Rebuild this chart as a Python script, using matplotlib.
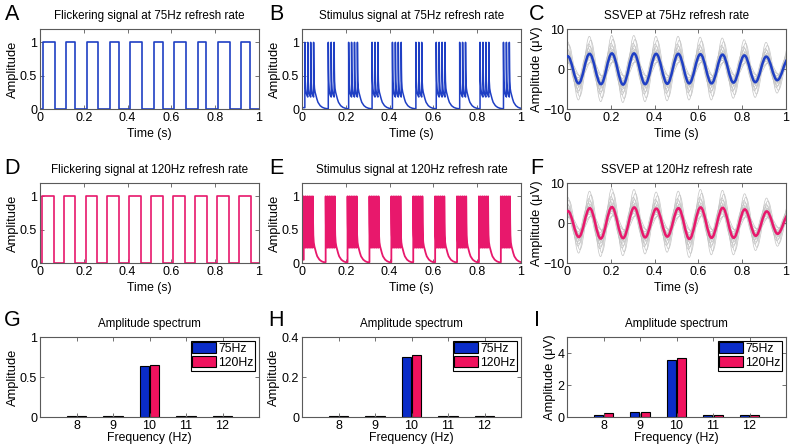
import numpy as np
import matplotlib
matplotlib.use("Agg")
from matplotlib import pyplot as plt
from matplotlib.path import Path
from matplotlib.patches import PathPatch

BLUE = "#1f3fc4"
PINK = "#e8186c"
BAR_BLUE = "#0a2cc8"
BAR_PINK = "#f0125e"
GREY = "#c4c4c4"

rise_75 = [0.013, 0.120, 0.213, 0.320, 0.413, 0.520, 0.613, 0.720, 0.813, 0.920]
fall_75 = [0.067, 0.160, 0.267, 0.360, 0.467, 0.560, 0.667, 0.760, 0.867, 0.960]
rise_120 = [0.008, 0.108, 0.208, 0.308, 0.408, 0.508, 0.608, 0.708, 0.808, 0.908]
fall_120 = [0.062, 0.162, 0.262, 0.362, 0.462, 0.562, 0.662, 0.762, 0.862, 0.962]

# luminance decay after one frame flash (time after flash, level)
flash_dt = [0.0, 0.001, 0.002, 0.004, 0.007, 0.010, 0.013]
flash_y = [1.0, 0.60, 0.42, 0.30, 0.23, 0.20, 0.18]
# decay after the last flash of a burst
tail_dt = [0.0, 0.001, 0.002, 0.004, 0.007, 0.010, 0.015, 0.020, 0.030, 0.040, 0.050, 0.060]
tail_y = [1.0, 0.60, 0.42, 0.31, 0.25, 0.21, 0.15, 0.10, 0.05, 0.025, 0.012, 0.005]

# SSVEP grand average extrema (time s, uV), panels C and F
ssvep75_t = [-0.047, 0.003, 0.053, 0.103, 0.155, 0.205, 0.256, 0.306, 0.357, 0.407, 0.458,
             0.508, 0.558, 0.609, 0.660, 0.710, 0.760, 0.810, 0.860, 0.910, 0.960, 1.012]
ssvep75_v = [-3.0, 3.2, -3.6, 3.8, -3.8, 3.9, -3.9, 3.9, -3.8, 3.8, -3.7,
             3.8, -3.6, 3.7, -3.6, 3.6, -3.4, 3.4, -3.3, 3.1, -2.8, 2.6]
ssvep120_t = [-0.047, 0.004, 0.054, 0.104, 0.154, 0.205, 0.256, 0.307, 0.357, 0.408, 0.458,
              0.509, 0.559, 0.610, 0.660, 0.711, 0.761, 0.812, 0.862, 0.912, 0.962, 1.013]
ssvep120_v = [-3.0, 3.0, -3.5, 3.7, -3.9, 4.0, -3.8, 3.9, -3.6, 3.6, -3.4,
              3.7, -4.0, 3.9, -3.7, 3.8, -3.7, 3.4, -3.2, 2.9, -2.7, 2.2]

# single trials (grey): gain and latency shift relative to the average
trial_gain = [0.45, 0.6, 0.75, 0.85, 0.95, 1.05, 1.15, 1.25, 1.35, 1.5, 1.65, 1.9, 2.15, 0.55, 1.1]
trial_shift = [0.004, -0.003, 0.002, -0.005, 0.006, 0.0, -0.002, 0.003, -0.006, 0.001,
               -0.004, 0.005, -0.001, 0.012, -0.010]

# amplitude spectra
freqs = [8, 9, 10, 11, 12]
stim_amp_75 = [0.009, 0.009, 0.642, 0.009, 0.009]
stim_amp_120 = [0.009, 0.009, 0.650, 0.009, 0.009]
lum_amp_75 = [0.003, 0.003, 0.302, 0.003, 0.003]
lum_amp_120 = [0.003, 0.003, 0.308, 0.003, 0.003]
ssvep_amp_75 = [0.14, 0.33, 3.59, 0.10, 0.10]
ssvep_amp_120 = [0.25, 0.33, 3.71, 0.12, 0.10]

time_ticks = [0, 0.2, 0.4, 0.6, 0.8, 1]
time_labels = ["0", "0.2", "0.4", "0.6", "0.8", "1"]

plt.rcParams["font.family"] = ["Liberation Sans Narrow", "Liberation Sans", "DejaVu Sans"]
plt.rcParams["axes.unicode_minus"] = True

fig = plt.figure(figsize=(7.94, 4.47), dpi=100)
lefts = [40 / 794, 302 / 794, 567 / 794]
bottoms = [1 - 109 / 447, 1 - 263 / 447, 1 - 417 / 447]
w, h = 219 / 794, 80 / 447
TICK_FS = 9
XLAB_FS = 8.8
YLAB_FS = 9.3
TITLE_FS = 8.4


def style(ax):
    for s in ax.spines.values():
        s.set_color("#5a5a5a")
        s.set_linewidth(0.8)
    ax.tick_params(direction="in", length=3, width=0.6, top=True, right=True,
                   labelsize=TICK_FS, pad=2, color="#5a5a5a")


def square(ax, rises, falls, color):
    t, y = [0.0], [0.0]
    for r, f in zip(rises, falls):
        t += [r, r, f, f]
        y += [0, 1, 1, 0]
    t.append(1.0)
    y.append(0.0)
    ax.plot(t, y, color=color, lw=1.2)


def stimulus(ax, rises, falls, rate, start, color, lw):
    frame = 1.0 / rate
    t, y = [0.0], [start]
    for k, (r, f) in enumerate(zip(rises, falls)):
        nxt = rises[k + 1] if k + 1 < len(rises) else 1.0
        onsets = np.arange(r, f - frame / 2, frame)
        for j, t0 in enumerate(onsets):
            t.append(t0)
            y.append(y[-1])
            if j < len(onsets) - 1:
                dts, ys, end = flash_dt, flash_y, frame
            else:
                dts, ys, end = tail_dt, tail_y, nxt - t0
            for d, v in zip(dts, ys):
                if d < end:
                    t.append(t0 + d)
                    y.append(v)
    t.append(1.0)
    y.append(y[-1])
    ax.plot(t, y, color=color, lw=lw)


def wave(ax, ts, vs, color, lw, gain=1.0, shift=0.0, z=2):
    verts = [(ts[0] + shift, vs[0] * gain)]
    codes = [Path.MOVETO]
    for (t0, v0), (t1, v1) in zip(zip(ts[:-1], vs[:-1]), zip(ts[1:], vs[1:])):
        d = (t1 - t0) * 0.363
        verts += [(t0 + d + shift, v0 * gain), (t1 - d + shift, v1 * gain), (t1 + shift, v1 * gain)]
        codes += [Path.CURVE4] * 3
    ax.add_patch(PathPatch(Path(verts, codes), fill=False, edgecolor=color, lw=lw, zorder=z))


def ssvep(ax, ts, vs, color):
    for g, s in zip(trial_gain, trial_shift):
        wave(ax, ts, vs, GREY, 0.5, g, s, z=1)
    wave(ax, ts, vs, color, 1.8, z=3)


def time_axis(ax):
    ax.set_xlim(0, 1)
    ax.set_xticks(time_ticks)
    ax.set_xticklabels(time_labels)
    ax.set_xlabel("Time (s)", fontsize=XLAB_FS, labelpad=3)


def spectrum(ax, a75, a120, ylim, yticks, ylabels, ylabel):
    x = np.array(freqs)
    ax.bar(x - 0.14, a75, width=0.25, color=BAR_BLUE, edgecolor="black", lw=0.8, label="75Hz")
    ax.bar(x + 0.14, a120, width=0.25, color=BAR_PINK, edgecolor="black", lw=0.8, label="120Hz")
    ax.set_xlim(7, 13)
    ax.set_xticks(freqs)
    ax.set_ylim(*ylim)
    ax.set_yticks(yticks)
    ax.set_yticklabels(ylabels)
    ax.set_xlabel("Frequency (Hz)", fontsize=XLAB_FS, labelpad=0)
    ax.set_ylabel(ylabel, fontsize=YLAB_FS, labelpad=1)
    ax.set_title("Amplitude spectrum", fontsize=TITLE_FS, pad=7)
    leg = ax.legend(loc="upper right", fontsize=8.8, fancybox=False, framealpha=1,
                    edgecolor="black", handlelength=1.9, handleheight=0.95,
                    handletextpad=0.2, labelspacing=0.12, borderpad=0.15,
                    borderaxespad=0.3)
    leg.get_frame().set_linewidth(0.8)


axes = [[fig.add_axes([l, b, w, h]) for l in lefts] for b in bottoms]
for row in axes:
    for ax in row:
        style(ax)

# row 1: 75 Hz
ax = axes[0][0]
square(ax, rise_75, fall_75, BLUE)
ax.set_ylim(0, 1.2)
ax.set_title("Flickering signal at 75Hz refresh rate", fontsize=TITLE_FS, pad=7)

ax = axes[0][1]
stimulus(ax, rise_75, fall_75, 75, 0.02, BLUE, 1.1)
ax.set_ylim(0, 1.2)
ax.set_title("Stimulus signal at 75Hz refresh rate", fontsize=TITLE_FS, pad=7)

ax = axes[0][2]
ssvep(ax, ssvep75_t, ssvep75_v, BLUE)
ax.set_title("SSVEP at 75Hz refresh rate", fontsize=TITLE_FS, pad=7)

# row 2: 120 Hz
ax = axes[1][0]
square(ax, rise_120, fall_120, PINK)
ax.set_ylim(0, 1.2)
ax.set_title("Flickering signal at 120Hz refresh rate", fontsize=TITLE_FS, pad=7)

ax = axes[1][1]
stimulus(ax, rise_120, fall_120, 120, 0.05, PINK, 1.3)
ax.set_ylim(0, 1.2)
ax.set_title("Stimulus signal at 120Hz refresh rate", fontsize=TITLE_FS, pad=7)

ax = axes[1][2]
ssvep(ax, ssvep120_t, ssvep120_v, PINK)
ax.set_title("SSVEP at 120Hz refresh rate", fontsize=TITLE_FS, pad=7)

for r in range(2):
    for c in range(3):
        ax = axes[r][c]
        time_axis(ax)
        if c < 2:
            ax.set_yticks([0, 0.5, 1])
            ax.set_yticklabels(["0", "0.5", "1"])
            ax.set_ylabel("Amplitude", fontsize=YLAB_FS, labelpad=1)
        else:
            ax.set_ylim(-10, 10)
            ax.set_yticks([-10, 0, 10])
            ax.set_ylabel("Amplitude (μV)", fontsize=YLAB_FS, labelpad=0)

# row 3: spectra
spectrum(axes[2][0], stim_amp_75, stim_amp_120, (0, 1), [0, 0.5, 1], ["0", "0.5", "1"], "Amplitude")
spectrum(axes[2][1], lum_amp_75, lum_amp_120, (0, 0.4), [0, 0.2, 0.4], ["0", "0.2", "0.4"], "Amplitude")
spectrum(axes[2][2], ssvep_amp_75, ssvep_amp_120, (0, 5), [0, 2, 4], ["0", "2", "4"], "Amplitude (μV)")

letters = "ABCDEFGHI"
letter_x = [12, 276, 537]
letter_y = [14, 168, 320]
for i, ch in enumerate(letters):
    fig.text(letter_x[i % 3] / 794, 1 - letter_y[i // 3] / 447, ch, fontsize=15.5,
             ha="center", va="center")

fig.savefig("out.png", dpi=100)
